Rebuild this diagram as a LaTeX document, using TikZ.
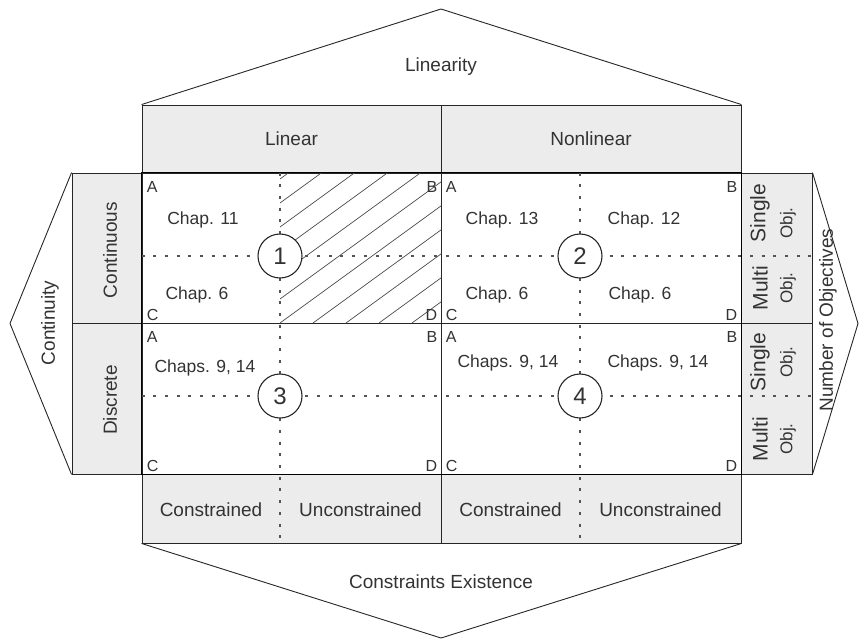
\documentclass[tikz,border=0pt]{standalone}
\usepackage{fontspec}
\setmainfont{Liberation Sans}
\definecolor{bandgray}{gray}{0.925}
\definecolor{linecol}{gray}{0.15}
\definecolor{dotcol}{gray}{0.33}
\definecolor{txtcol}{gray}{0.2}
\tikzset{
  bandbox/.style={draw=linecol, fill=bandgray, line width=0.9pt, inner sep=0pt},
  cellbox/.style={draw=linecol, fill=white, line width=0.9pt, inner sep=0pt},
  lbl/.style={font=\fontsize{19}{22}\selectfont, text=txtcol, inner sep=0pt},
  chap/.style={font=\fontsize{17.5}{20}\selectfont, text=txtcol, inner sep=0pt},
  corner/.style={font=\fontsize{16}{18}\selectfont, text=txtcol, inner sep=0pt},
  bigobj/.style={font=\fontsize{21}{24}\selectfont, text=txtcol, inner sep=0pt, rotate=90},
  smallobj/.style={font=\fontsize{17}{19}\selectfont, text=txtcol, inner sep=0pt, rotate=90},
  num/.style={circle, draw=linecol, fill=white, line width=1.1pt, minimum size=44pt,
              inner sep=0pt, text=txtcol, font=\fontsize{24}{26}\selectfont},
  dotline/.style={draw=dotcol, line width=2.2pt, dash pattern=on 3pt off 8.7pt},
  hatchline/.style={draw=black!70, line width=0.7pt},
  wing/.style={draw=linecol, line width=0.9pt},
  outer/.style={draw=black, line width=1.8pt},
}
\begin{document}
\begin{tikzpicture}[x=1pt,y=-1pt]
\useasboundingbox (0,0) rectangle (861,640);

% header band (linearity)
\node[bandbox, minimum width=299pt, minimum height=68pt] (hlin) at (291.5,139) {};
\node[bandbox, minimum width=300pt, minimum height=68pt] (hnon) at (591,139) {};
\node[lbl] (tlin) at (hlin.center) {Linear};
\node[lbl] (tnon) at (hnon.center) {Nonlinear};

% footer band (constraints)
\node[bandbox, minimum width=299pt, minimum height=69pt] (bl) at (291.5,508.5) {};
\node[bandbox, minimum width=300pt, minimum height=69pt] (br) at (591,508.5) {};

% left band (continuity)
\node[bandbox, minimum width=70pt, minimum height=150pt] (lc) at (107,248) {};
\node[bandbox, minimum width=70pt, minimum height=151pt] (ld) at (107,398.5) {};

% right band (number of objectives)
\node[bandbox, minimum width=71pt, minimum height=150pt] (ro1) at (776.5,248) {};
\node[bandbox, minimum width=71pt, minimum height=151pt] (ro2) at (776.5,398.5) {};

% the four problem cells
\node[cellbox, minimum width=299pt, minimum height=150pt] (cell1) at (291.5,248) {};
\node[cellbox, minimum width=300pt, minimum height=150pt] (cell2) at (591,248) {};
\node[cellbox, minimum width=299pt, minimum height=151pt] (cell3) at (291.5,398.5) {};
\node[cellbox, minimum width=300pt, minimum height=151pt] (cell4) at (591,398.5) {};

% centres of the cells
\coordinate (p1) at (280,256);
\coordinate (p2) at (580,256);
\coordinate (p3) at (280,396);
\coordinate (p4) at (580,396);

% hatched quarter of cell 1
\begin{scope}
  \clip (p1 |- cell1.north) rectangle (cell1.south east);
  \foreach \k in {-7,...,6}
    \draw[hatchline] (280+33*\k,323) -- ++(330,-240);
\end{scope}

% dotted dividers
\draw[dotline] (p1 |- cell1.north) -- (p1 |- bl.south);
\draw[dotline] (p2 |- cell2.north) -- (p2 |- br.south);
\draw[dotline] (cell1.west |- p1) -- (ro1.east |- p1);
\draw[dotline] (cell3.west |- p3) -- (ro2.east |- p3);

% outer frame of the cells
\draw[outer] (cell1.north west) rectangle (cell4.south east);

% numbered markers
\node[num] (c1) at (p1) {1};
\node[num] (c2) at (p2) {2};
\node[num] (c3) at (p3) {3};
\node[num] (c4) at (p4) {4};

% wings
\coordinate (topapex) at (441,9);
\coordinate (botapex) at (441,638);
\coordinate (leftapex) at (10,323.5);
\coordinate (rightapex) at (858,323.5);
\draw[wing] (hlin.north west) -- (topapex) -- (hnon.north east);
\draw[wing] (bl.south west) -- (botapex) -- (br.south east);
\draw[wing] (lc.north west) -- (leftapex) -- (ld.south west);
\draw[wing] (ro1.north east) -- (rightapex) -- (ro2.south east);

\node[lbl] (linearity) at (441,67) {Linearity};
\node[lbl] (cexist) at (441,582) {Constraints Existence};
\node[lbl, rotate=90] (contin) at (50,323) {Continuity};
\node[lbl, rotate=90] (nobj) at (828,320) {Number of Objectives};

% band labels
\node[lbl] (con1) at (211,510) {Constrained};
\node[lbl] (unc1) at (360.5,510) {Unconstrained};
\node[lbl] (con2) at (510.5,510) {Constrained};
\node[lbl] (unc2) at (660.5,510) {Unconstrained};
\node[lbl, rotate=90] (tcont) at (110,250) {Continuous};
\node[lbl, rotate=90] (tdisc) at (110,400) {Discrete};

\node[bigobj] (s1) at (760,213) {Single};
\node[smallobj] (o1) at (788,223) {Obj.};
\node[bigobj] (m1) at (760,288) {Multi};
\node[smallobj] (o2) at (788,288) {Obj.};
\node[bigobj] (s2) at (760,362) {Single};
\node[smallobj] (o3) at (788,362) {Obj.};
\node[bigobj] (m2) at (760,439) {Multi};
\node[smallobj] (o4) at (788,439) {Obj.};

% chapter references
\node[chap] (ch11) at (203,220) {Chap. 11};
\node[chap] (ch6a) at (197,295) {Chap. 6};
\node[chap] (ch13) at (502,220) {Chap. 13};
\node[chap] (ch12) at (644,220) {Chap. 12};
\node[chap] (ch6b) at (497,295) {Chap. 6};
\node[chap] (ch6c) at (640,295) {Chap. 6};
\node[chap] (ch914a) at (205,368) {Chaps. 9, 14};
\node[chap] (ch914b) at (508,363) {Chaps. 9, 14};
\node[chap] (ch914c) at (658,363) {Chaps. 9, 14};

% corner letters
\foreach \c in {cell1,cell2,cell3,cell4}{
  \node[corner, anchor=base west] at ([shift={(5,20)}]\c.north west) {A};
  \node[corner, anchor=base east] at ([shift={(-4,20)}]\c.north east) {B};
  \node[corner, anchor=base west] at ([shift={(5,-3)}]\c.south west) {C};
  \node[corner, anchor=base east] at ([shift={(-4,-3)}]\c.south east) {D};
}
\end{tikzpicture}
\end{document}
